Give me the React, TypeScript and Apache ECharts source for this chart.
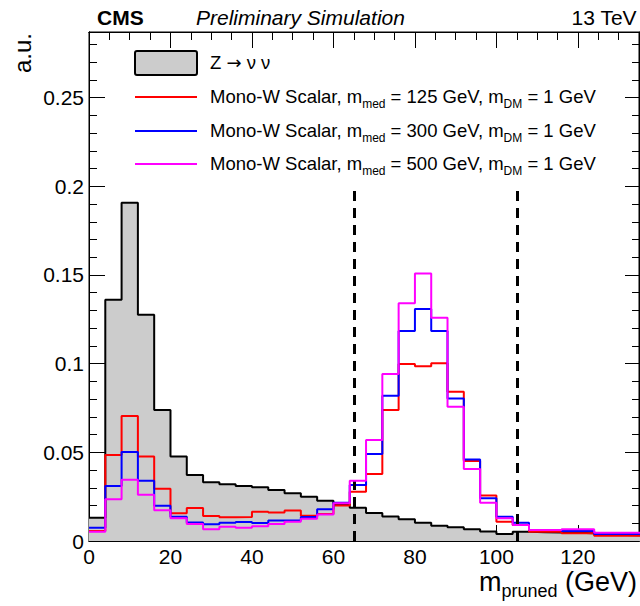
import React, { useEffect, useRef } from "react";
import * as echarts from "echarts";

// Bin edges (GeV), 4 GeV bins
const binEdges = [
  0, 4, 8, 12, 16, 20, 24, 28, 32, 36, 40, 44, 48, 52, 56, 60, 64, 68, 72, 76, 80,
  84, 88, 92, 96, 100, 104, 108, 112, 116, 120, 124, 128, 132, 136,
];

// Z -> nu nu background (a.u.)
const zNuNu = [
  0.0131, 0.136, 0.1907, 0.1276, 0.0738, 0.0477, 0.0372, 0.0331, 0.032, 0.031,
  0.0303, 0.0287, 0.0269, 0.025, 0.0227, 0.0208, 0.0188, 0.0158, 0.0138, 0.0122,
  0.0103, 0.0086, 0.0077, 0.0066, 0.0053, 0.004, 0.0052, 0.005, 0.0048, 0.0046,
  0.0044, 0.0036, 0.0034, 0.0032,
];

// Mono-W scalar, m_med = 125 GeV
const med125 = [
  0.0056, 0.0485, 0.0705, 0.0477, 0.0295, 0.0156, 0.0186, 0.0141, 0.0134, 0.0136,
  0.0165, 0.016, 0.0172, 0.0143, 0.0152, 0.02, 0.0278, 0.0378, 0.0738, 0.0998,
  0.0986, 0.1002, 0.0842, 0.0451, 0.0256, 0.0109, 0.009, 0.0052, 0.0052, 0.0043,
  0.0043, 0.003, 0.003, 0.003,
];

// Mono-W scalar, m_med = 300 GeV
const med300 = [
  0.0075, 0.031, 0.0502, 0.034, 0.0199, 0.0137, 0.0105, 0.0094, 0.0103, 0.0107,
  0.0101, 0.0116, 0.0116, 0.0136, 0.0179, 0.0216, 0.0316, 0.049, 0.0819, 0.1184,
  0.1308, 0.1184, 0.0804, 0.046, 0.0241, 0.0137, 0.0103, 0.0062, 0.0062, 0.0056,
  0.0056, 0.0039, 0.0039, 0.0039,
];

// Mono-W scalar, m_med = 500 GeV
const med500 = [
  0.0052, 0.0235, 0.0346, 0.0261, 0.0173, 0.0128, 0.0096, 0.0066, 0.0081, 0.0075,
  0.0083, 0.0096, 0.0109, 0.0125, 0.015, 0.0213, 0.034, 0.0569, 0.0941, 0.134,
  0.1509, 0.1259, 0.0757, 0.0406, 0.0216, 0.0128, 0.009, 0.0062, 0.0062, 0.0066,
  0.0066, 0.0047, 0.0047, 0.0047,
];

// Mass window cut lines (GeV) and their height
const cutLines = [65, 105];
const cutTop = 0.2;

const X_MIN = 0;
const X_MAX = 135;
const Y_MIN = 0;
const Y_MAX = 0.287;

const FONT = "'Liberation Sans', Arial, Helvetica, sans-serif";

function toSteps(values: number[]): [number, number][] {
  const pts: [number, number][] = values.map((v, i) => [binEdges[i], v]);
  pts.push([binEdges[values.length], values[values.length - 1]]);
  return pts;
}

function makeAxis(kind: "x" | "y", position: string, interval: number, tickLen: number, labels: boolean) {
  const isX = kind === "x";
  return {
    type: "value",
    position,
    min: isX ? X_MIN : Y_MIN,
    max: isX ? X_MAX : Y_MAX,
    interval,
    axisLine: { show: true, onZero: false, lineStyle: { color: "#000", width: 1 } },
    axisTick: { show: true, inside: true, length: tickLen, lineStyle: { color: "#000", width: 1 } },
    axisLabel: labels
      ? {
          show: true,
          fontSize: 21,
          color: "#000",
          fontFamily: FONT,
          margin: 5,
          showMaxLabel: false,
        }
      : { show: false },
    splitLine: { show: false },
    minorTick: { show: false },
  };
}

export default function App() {
  const ref = useRef<HTMLDivElement>(null);

  useEffect(() => {
    if (!ref.current) return;
    const chart = echarts.init(ref.current, undefined, { renderer: "svg" });

    const lineBase = {
      type: "line",
      step: "end",
      showSymbol: false,
      symbol: "none",
      xAxisIndex: 0,
      yAxisIndex: 0,
      silent: true,
    };

    const subRich = (pad: number, size: number) => ({
      sub: { fontSize: size, fontFamily: FONT, fill: "#000", color: "#000", padding: [pad, 0, 0, 0] },
    });

    const legendText = (label: string, y: number) => ({
      type: "text",
      left: 210,
      top: y - 10,
      style: {
        text: label,
        fontSize: 18.5,
        fontFamily: FONT,
        fill: "#000",
        rich: subRich(14, 12),
      },
    });

    const option = {
      animation: false,
      backgroundColor: "#fff",
      grid: {
        left: 89,
        right: 1,
        top: 32,
        bottom: 65,
        show: true,
        borderColor: "#000",
        borderWidth: 1,
        backgroundColor: "transparent",
      },
      xAxis: [
        makeAxis("x", "bottom", 20, 16, true),
        makeAxis("x", "bottom", 5, 8, false),
        makeAxis("x", "top", 20, 16, false),
        makeAxis("x", "top", 5, 8, false),
      ],
      yAxis: [
        makeAxis("y", "left", 0.05, 16, true),
        makeAxis("y", "left", 0.01, 8, false),
        makeAxis("y", "right", 0.05, 14, false),
        makeAxis("y", "right", 0.01, 7, false),
      ],
      series: [
        {
          ...lineBase,
          name: "Z",
          data: toSteps(zNuNu),
          lineStyle: { color: "#000", width: 2 },
          areaStyle: { color: "#cccccc", opacity: 1 },
          z: 2,
        },
        { ...lineBase, name: "m125", data: toSteps(med125), lineStyle: { color: "#ff0000", width: 2 }, z: 3 },
        { ...lineBase, name: "m300", data: toSteps(med300), lineStyle: { color: "#0000ff", width: 2 }, z: 4 },
        {
          ...lineBase,
          name: "m500",
          data: toSteps(med500),
          lineStyle: { color: "#ff00ff", width: 2 },
          z: 5,
          markLine: {
            silent: true,
            symbol: ["none", "none"],
            label: { show: false },
            lineStyle: { color: "#000", width: 3, type: [10, 7] },
            data: cutLines.map((c) => [{ coord: [c, 0] }, { coord: [c, cutTop] }]),
          },
        },
      ],
      graphic: [
        // header
        {
          type: "text",
          left: 97,
          top: 7,
          style: { text: "CMS", fontSize: 21, fontWeight: "bold", fontFamily: FONT, fill: "#000" },
        },
        {
          type: "text",
          left: 196,
          top: 7,
          style: { text: "Preliminary Simulation", fontSize: 21, fontStyle: "italic", fontFamily: FONT, fill: "#000" },
        },
        {
          type: "text",
          right: 3,
          top: 7,
          style: { text: "13 TeV", fontSize: 21, fontFamily: FONT, fill: "#000" },
        },
        // y-axis title
        {
          type: "text",
          x: 22,
          y: 33,
          rotation: Math.PI / 2,
          style: {
            text: "a.u.",
            fontSize: 24,
            fontFamily: FONT,
            fill: "#000",
            align: "right",
            verticalAlign: "middle",
          },
        },
        // x-axis title
        {
          type: "text",
          right: 3,
          top: 568,
          style: {
            text: "m{sub|pruned} (GeV)",
            fontSize: 27,
            fontFamily: FONT,
            fill: "#000",
            rich: subRich(18, 18),
          },
        },
        // legend
        {
          type: "rect",
          shape: { x: 135, y: 51, width: 62, height: 24, r: 2 },
          style: { fill: "#cccccc", stroke: "#000", lineWidth: 2 },
        },
        {
          type: "text",
          left: 210,
          top: 53,
          style: {
            text: "Z {arr|\u2192} \u03bd \u03bd",
            fontSize: 18.5,
            fontFamily: FONT,
            fill: "#000",
            rich: { arr: { fontSize: 18, fontFamily: "'DejaVu Sans', sans-serif", fill: "#000", color: "#000" } },
          },
        },
        { type: "line", shape: { x1: 135, y1: 97, x2: 197, y2: 97 }, style: { stroke: "#ff0000", lineWidth: 2 } },
        { type: "line", shape: { x1: 135, y1: 131, x2: 197, y2: 131 }, style: { stroke: "#0000ff", lineWidth: 2 } },
        { type: "line", shape: { x1: 135, y1: 164, x2: 197, y2: 164 }, style: { stroke: "#ff00ff", lineWidth: 2 } },
        legendText("Mono-W Scalar, m{sub|med} = 125 GeV, m{sub|DM} = 1 GeV", 97),
        legendText("Mono-W Scalar, m{sub|med} = 300 GeV, m{sub|DM} = 1 GeV", 131),
        legendText("Mono-W Scalar, m{sub|med} = 500 GeV, m{sub|DM} = 1 GeV", 164),
      ],
    };

    chart.setOption(option as any);
    return () => chart.dispose();
  }, []);

  return (
    <div
      ref={ref}
      style={{ position: "fixed", left: 0, top: 0, width: 640, height: 606, background: "#fff" }}
    />
  );
}
